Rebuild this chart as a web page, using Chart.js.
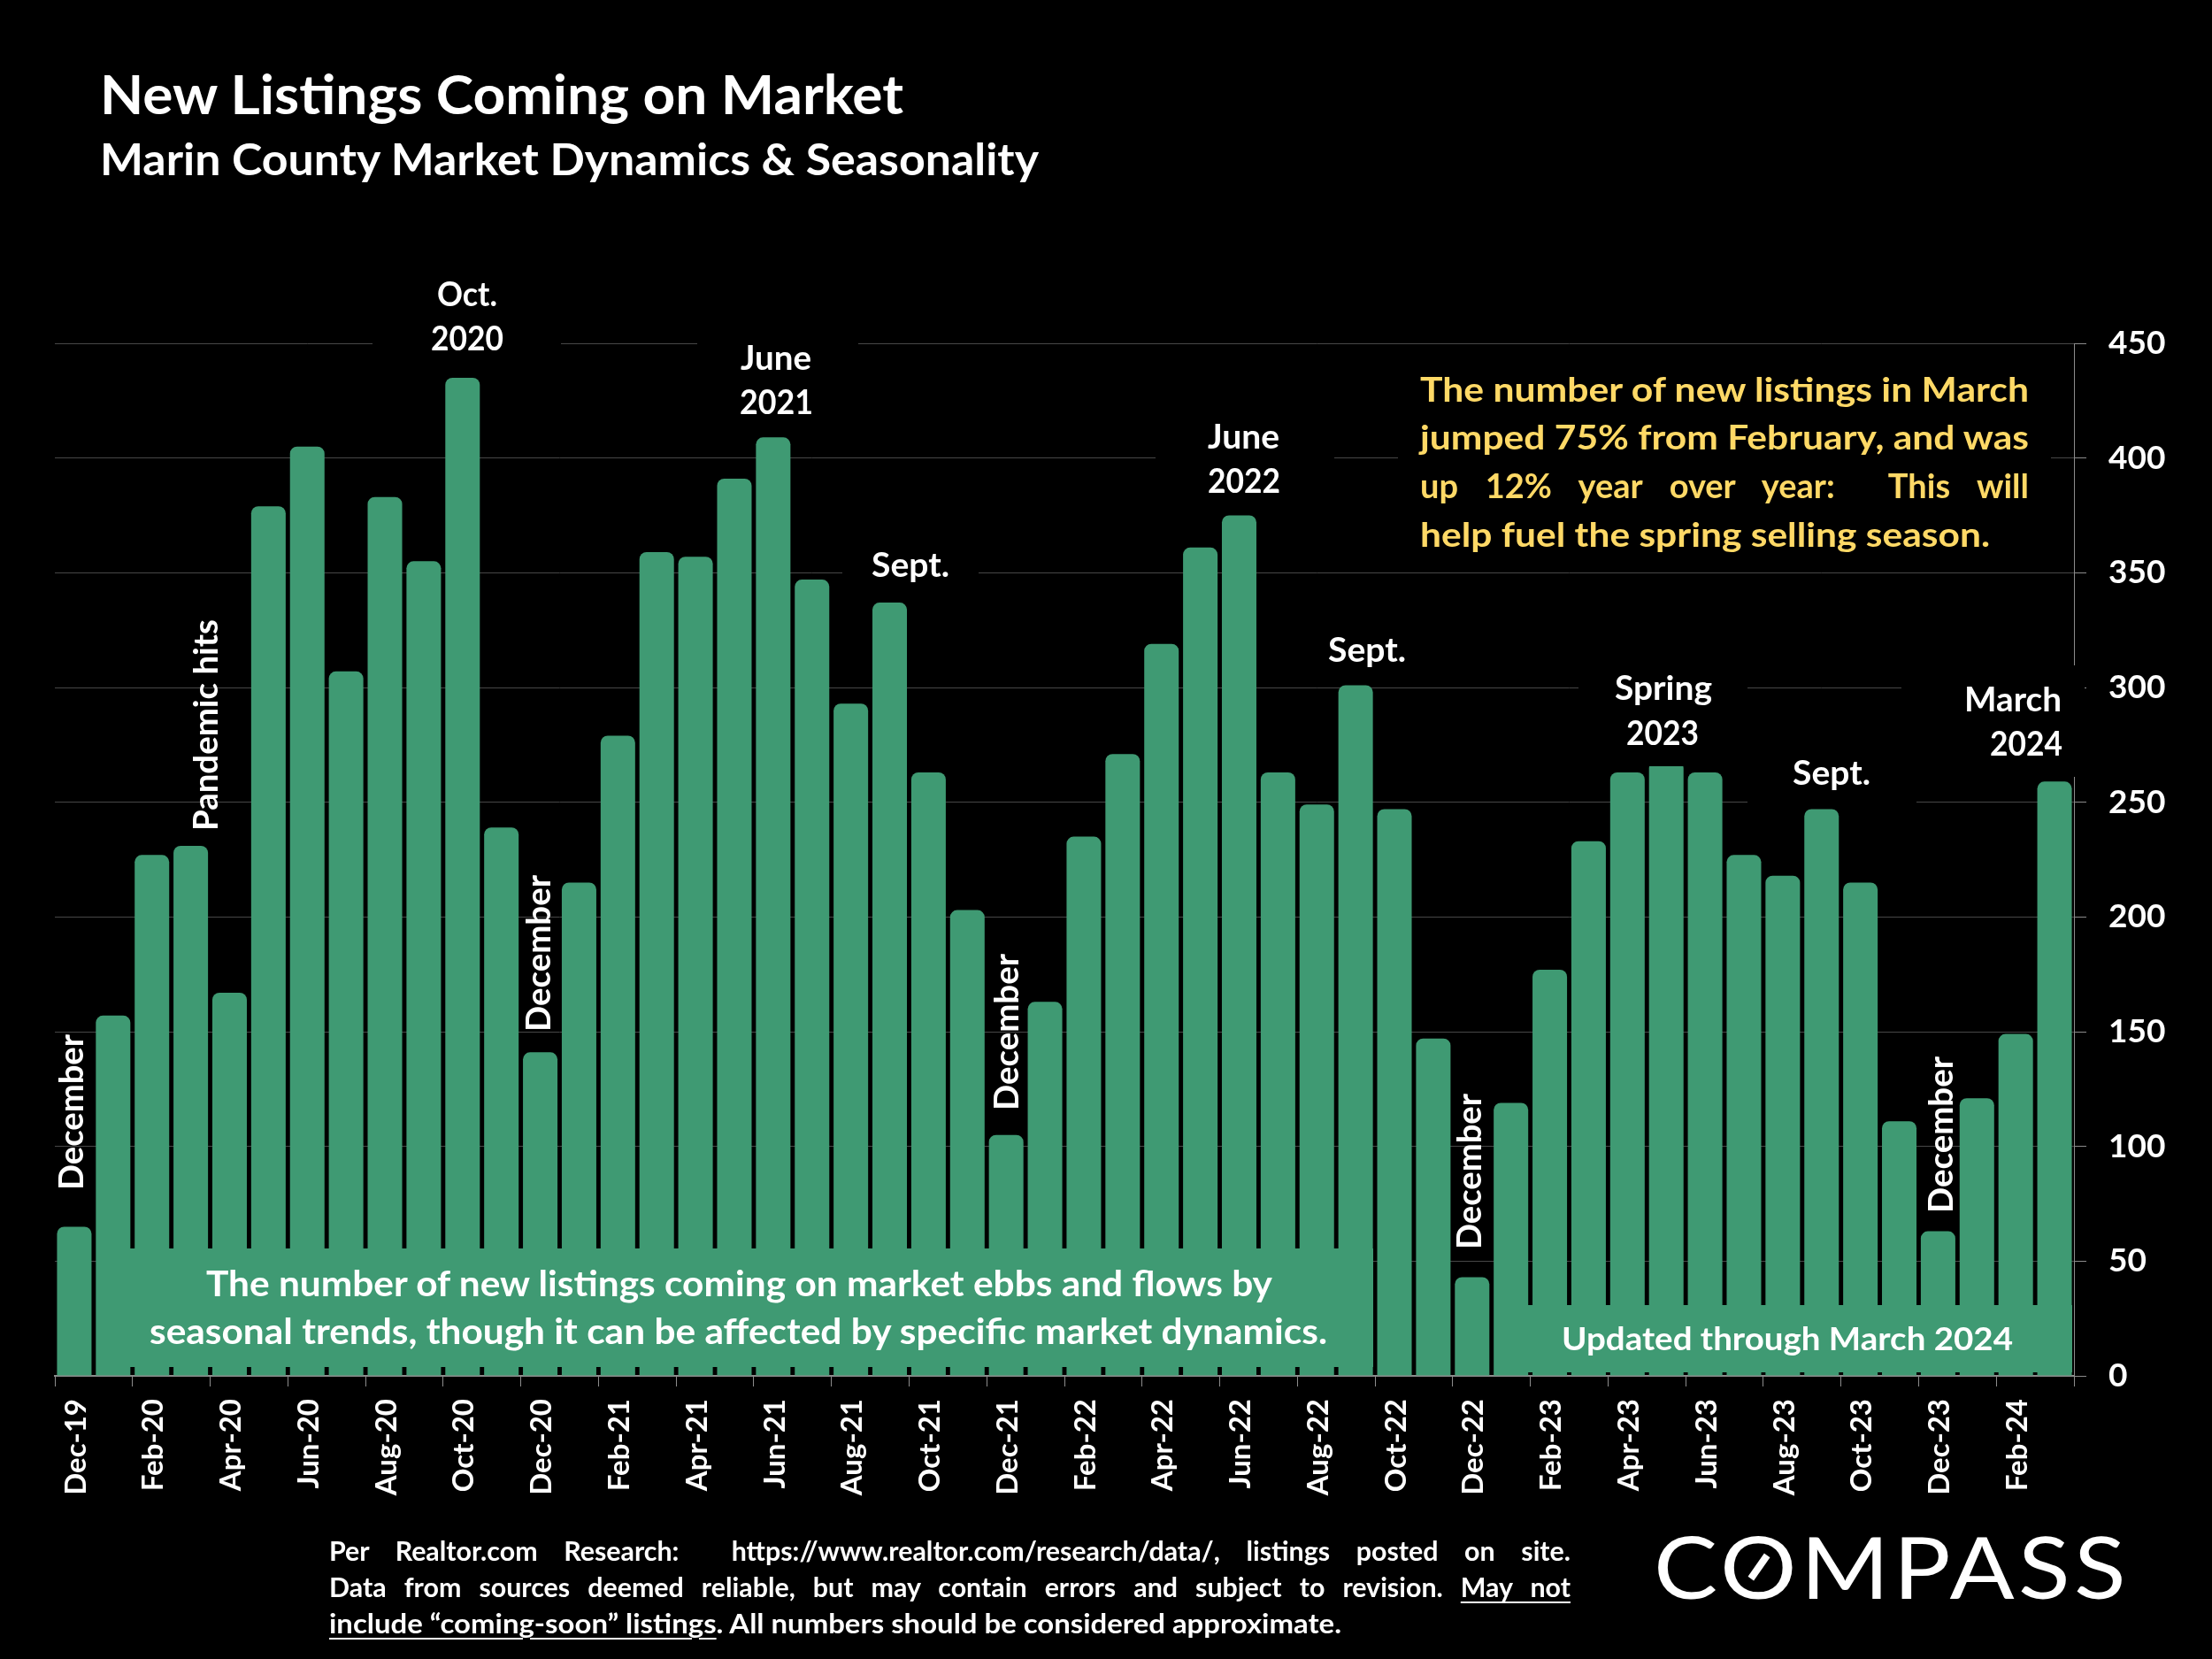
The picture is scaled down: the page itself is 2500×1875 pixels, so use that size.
<!DOCTYPE html>
<html><head><meta charset="utf-8">
<title>New Listings Coming on Market</title>
<script src="https://cdn.jsdelivr.net/npm/chart.js@4"></script>
<style>
html,body{margin:0;padding:0;background:#000;width:2500px;height:1875px;overflow:hidden}
#wrap{position:relative;width:2500px;height:1875px;background:#000}
canvas{position:absolute;left:0;top:0}
.t{position:absolute;left:0;top:0;font-family:Lato,sans-serif;font-weight:700;color:#fff;white-space:nowrap;}
.t u{text-underline-offset:5px;text-decoration-thickness:2px}
</style></head>
<body><div id="wrap"><canvas id="c" width="2500" height="1875"></canvas></div>
<script>
const categories=["Dec-19","Jan-20","Feb-20","Mar-20","Apr-20","May-20","Jun-20","Jul-20","Aug-20","Sep-20","Oct-20","Nov-20","Dec-20","Jan-21","Feb-21","Mar-21","Apr-21","May-21","Jun-21","Jul-21","Aug-21","Sep-21","Oct-21","Nov-21","Dec-21","Jan-22","Feb-22","Mar-22","Apr-22","May-22","Jun-22","Jul-22","Aug-22","Sep-22","Oct-22","Nov-22","Dec-22","Jan-23","Feb-23","Mar-23","Apr-23","May-23","Jun-23","Jul-23","Aug-23","Sep-23","Oct-23","Nov-23","Dec-23","Jan-24","Feb-24","Mar-24"];
const newListings=[65,157,227,231,167,379,405,307,383,355,435,239,141,215,279,359,357,391,409,347,293,337,263,203,105,163,235,271,319,361,375,263,249,301,247,147,43,119,177,233,263,268,263,227,218,247,215,111,63,121,149,259];
const yMin=0, yMax=450, yStep=50;

const GREEN='#3F9A73', GRID='#474747', AXIS='#8c8c8c';
// black knock-outs behind labels: [x0,y0,x1,y1]
const knockouts=[[421,300,634,420],[788,380,970,470],[952,600,1106,655],[1306,470,1508,525],[1784,750,1975,866],[2149,752,2356,878],[1975,850,2166,912],[1580,420,2318,625]];
const bands=[[109,1411,1552,1545],[1689,1475,2342,1551]];

const overlay={id:'overlay',afterDatasetsDraw(ch){const c=ch.ctx;c.save();
  c.fillStyle='#000';knockouts.forEach(b=>c.fillRect(b[0],b[1],b[2]-b[0],b[3]-b[1]));
  c.fillStyle=GREEN;bands.forEach(b=>c.fillRect(b[0],b[1],b[2]-b[0],b[3]-b[1]));
  c.restore();}};

new Chart(document.getElementById('c'),{type:'bar',
 data:{labels:categories,datasets:[{label:'New Listings',data:newListings,backgroundColor:GREEN,borderWidth:0,
   barPercentage:0.889,categoryPercentage:1,borderRadius:{topLeft:8,topRight:8,bottomLeft:0,bottomRight:0},borderSkipped:'bottom'}]},
 plugins:[overlay],
 options:{responsive:false,animation:false,devicePixelRatio:1,
  layout:{padding:{left:62,top:388,right:0,bottom:0}},
  plugins:{legend:{display:false},tooltip:{enabled:false},title:{display:false}},
  scales:{
   x:{offset:true,
      afterFit(s){s.height=320},
      grid:{offset:true,drawOnChartArea:false,drawTicks:true,tickLength:12,tickWidth:1,
        tickColor:c=>(c.index===undefined||c.index%2===0)?AXIS:'rgba(0,0,0,0)'},
      border:{display:true,color:AXIS,width:2},
      ticks:{autoSkip:false,minRotation:90,maxRotation:90,padding:14,labelOffset:2,color:'#fff',
        font:{family:'Lato',weight:'bold',size:33},
        callback(v,i){return i%2===0?this.getLabelForValue(v):''}}},
   y:{position:'right',min:yMin,max:yMax,
      afterFit(s){s.width=156},
      grid:{color:GRID,lineWidth:1,tickLength:14,tickColor:AXIS},
      border:{display:true,color:AXIS,width:1},
      ticks:{stepSize:yStep,padding:25,color:'#fff',font:{family:'Lato',weight:'bold',size:37}}}
  }}});

const wrap=document.getElementById('wrap');
function put(html,o){
  const d=document.createElement('div');d.className='t';
  const size=o.size||36;d.style.fontSize=size+'px';if(o.color)d.style.color=o.color;if(o.weight)d.style.fontWeight=o.weight;if(o.ls)d.style.letterSpacing=o.ls;
  const s=document.createElement('span');s.style.cssText='display:inline-block;width:0;height:0';
  d.appendChild(s);d.insertAdjacentHTML('beforeend',html);wrap.appendChild(d);
  const base=s.getBoundingClientRect().bottom;
  const nat=d.getBoundingClientRect().width;
  let sx=o.w?o.w/nat:1;
  if(o.just){sx=Math.min(o.just,o.w/nat);d.style.width=(o.w/sx)+'px';d.style.whiteSpace='normal';d.style.textAlign='justify';d.style.textAlignLast='justify';}
  d.style.transformOrigin='0 '+base+'px';
  d.style.transform='translate('+o.x+'px,'+(o.y-base)+'px) rotate('+(o.rot||0)+'deg) scaleX('+sx+')';
  return d;
}
// headings
put('New Listings Coming on Market',{x:113,y:129,w:908,size:62});
put('Marin County Market Dynamics &amp; Seasonality',{x:113,y:198,w:1061,size:49});
// horizontal callouts
[['Oct.',494,346,68],['2020',487,396,82],['June',837,418,80],['2021',836,468,83],['Sept.',985,652,88],
 ['June',1365,507,81],['2022',1365,557,82],['Sept.',1501,748,88],['Spring',1825,791,110],['2023',1838,842,82],
 ['Sept.',2026,887,88],['March',2220,804,110],['2024',2249,854,82]].forEach(a=>put(a[0],{x:a[1],y:a[2],w:a[3],size:38}));
// rotated callouts
[['December',94,1345,176],['Pandemic hits',246,939,239],['December',622,1166,177],['December',1151,1255,177],['December',1674,1412,176],['December',2207,1371,177]]
 .forEach(a=>put(a[0],{x:a[1],y:a[2],w:a[3],size:38,rot:-90}));
// yellow note
const Y='#FFD966';
put('The number of new listings in March',{x:1605,y:454,w:688,size:38,color:Y});
put('jumped 75% from February, and was',{x:1605,y:508,w:688,size:38,color:Y});
put('up 12% year over year:&nbsp; This will',{x:1605,y:563,w:688,size:38,color:Y,just:1});
put('help fuel the spring selling season.',{x:1605,y:618,w:644,size:38,color:Y});
// band texts
put('The number of new listings coming on market ebbs and flows by',{x:233,y:1465,w:1205,size:40});
put('seasonal trends, though it can be affected by specific market dynamics.',{x:169,y:1519,w:1331,size:40});
put('Updated through March 2024',{x:1765,y:1526,w:510,size:36});
// footnote
put('Per Realtor.com Research:&nbsp; https://www.realtor.com/research/data/, listings posted on site.',{x:372,y:1764,w:1403,size:31,just:0.98});
put('Data from sources deemed reliable, but may contain errors and subject to revision. <u>May not</u>',{x:372,y:1805,w:1403,size:31,just:0.98});
put('<u>include “coming-soon” listings</u>. All numbers should be considered approximate.',{x:372,y:1846,w:1144,size:31});
// logo
put('COMPASS',{x:1869,y:1807,w:538,size:97,weight:400,ls:'0.04em'});
const sl=document.createElement('div');sl.style.cssText='position:absolute;left:1972px;top:1767px;width:32px;height:8px;background:#fff;transform:rotate(-55deg)';wrap.appendChild(sl);
</script></body></html>
